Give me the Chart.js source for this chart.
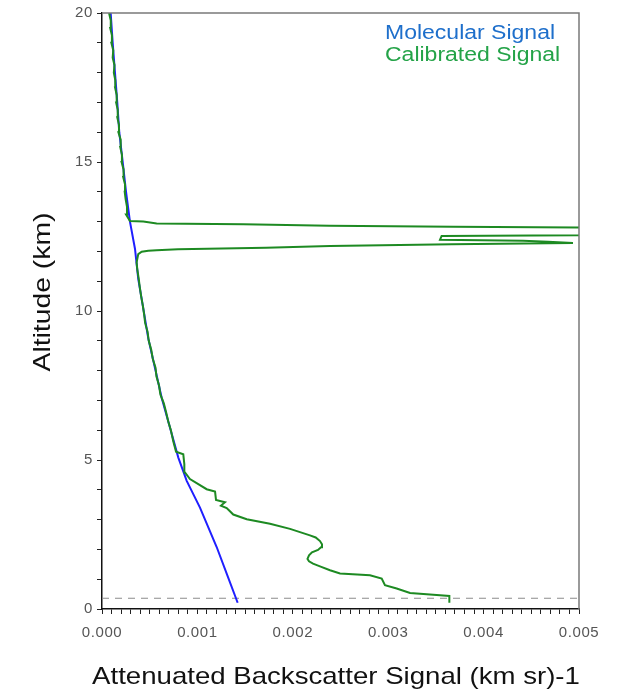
<!DOCTYPE html>
<html>
<head>
<meta charset="utf-8">
<script src="https://cdn.jsdelivr.net/npm/chart.js@4/dist/chart.umd.min.js"></script>
<style>
  html, body { margin: 0; padding: 0; background: #fff; }
  #wrap { width: 619px; height: 694px; position: relative; }
</style>
</head>
<body>
<div id="wrap"><canvas id="lidar"></canvas></div>
<script>
// molecular (model) profile: altitude km / signal
var molAlt = [0.21, 1.19, 2.08, 3.4, 4.3, 5.08, 6.08, 7.08, 8.08, 9.08, 10.08, 11.08, 12.08, 13.0, 14, 15, 16, 17, 18, 19, 20];
var molSignal = [0.001422, 0.001307, 0.001202, 0.001027, 0.000888, 0.000800, 0.000713, 0.000626, 0.000556, 0.000485,
    0.000433, 0.000380, 0.000346, 0.000293, 0.000252, 0.000217, 0.000181, 0.000160, 0.000136, 0.000112, 0.000091];

// calibrated lidar profile, bottom to top (cloud at ~12-13 km goes off scale)
var calAlt = [0.21, 0.44, 0.47, 0.54, 0.69, 0.80, 1.02, 1.13, 1.19, 1.30, 1.43, 1.52, 1.60, 1.68, 1.80, 1.90, 1.98,
    2.07, 2.17, 2.28, 2.40, 2.47, 2.69, 2.86,
    3.01, 3.17, 3.39, 3.47, 3.58, 3.66, 3.94, 4.02, 4.36, 4.58, 4.86, 5.19, 5.28, 5.63,
    6.0, 6.3, 6.6, 6.9, 7.2, 7.5, 7.8, 8.1, 8.4, 8.7, 9.0, 9.3, 9.6, 9.9, 10.2, 10.5, 10.8, 11.1, 11.4, 11.63,
    11.91, 11.99, 12.02, 12.04, 12.07, 12.12, 12.18, 12.24, 12.27, 12.28, 12.32, 12.36, 12.39, 12.52, 12.54,
    12.60, 12.75, 12.80, 12.83, 12.86, 12.91, 12.94, 13.00, 13.02, 13.24, 13.5, 13.75, 14.0,
    14.25, 14.5, 14.75, 15.0, 15.25, 15.5, 15.75, 16.0, 16.25, 16.5, 16.75, 17.0, 17.25, 17.5, 17.75,
    18.0, 18.25, 18.5, 18.75, 19.0, 19.25, 19.5, 19.75, 20.0];
var calSignal = [0.003641, 0.003641, 0.003508, 0.003229, 0.003089, 0.002966, 0.002932, 0.002809, 0.002495, 0.002390,
    0.002285, 0.002212, 0.002170, 0.002154, 0.002170, 0.002201, 0.002264,
    0.002296, 0.002306, 0.002285, 0.002240, 0.002180, 0.001971, 0.001761,
    0.001517, 0.001376, 0.001307, 0.001247, 0.001289, 0.001195, 0.001185, 0.001097, 0.000922, 0.000870, 0.000863,
    0.000852, 0.000776, 0.000747,
    0.000722, 0.000694, 0.000672, 0.000648, 0.000612, 0.000598, 0.000571, 0.000561, 0.000532, 0.000516, 0.000490,
    0.000478, 0.000452, 0.000441, 0.000427, 0.000410, 0.000396, 0.000384, 0.000370, 0.000363,
    0.000380, 0.000416, 0.000485, 0.000573, 0.000797, 0.001719, 0.002390, 0.003668, 0.004675, 0.004937, 0.004675,
    0.004413, 0.003543, 0.003560, 0.005000,
    0.005600, 0.005600, 0.004990, 0.003682, 0.002383, 0.001481, 0.000573, 0.000433, 0.000293, 0.000252, 0.000262,
    0.000248, 0.000238,
    0.000241, 0.000222, 0.000226, 0.000205, 0.000209, 0.000191, 0.000196, 0.000172, 0.000178, 0.000160, 0.000165,
    0.000148, 0.000154, 0.000137, 0.000139,
    0.000124, 0.000131, 0.000112, 0.000118, 0.000098, 0.000104, 0.000086, 0.000092, 0.000074];

var groundAlt = [0.36, 0.36];
var groundSignal = [0, 0.005];

var altTicks = [0, 5, 10, 15, 20];
var signalTicks = ['0.000', '0.001', '0.002', '0.003', '0.004', '0.005'];
var seriesNames = ['Molecular Signal', 'Calibrated Signal'];

function pts(xs, ys) {
    var out = [];
    for (var i = 0; i < xs.length; i++) {
        out.push({ x: xs[i], y: ys[i] });
    }
    return out;
}

// text in the source figure is a bit wider than Arial, so stretch it
function wideText(ctx, txt, x, y, align) {
    var sx = 1.15;
    ctx.save();
    ctx.translate(x, y);
    ctx.scale(sx, 1);
    ctx.textAlign = align;
    ctx.fillText(txt, 0, 0);
    ctx.restore();
}

Chart.defaults.font.family = '"Liberation Sans", Arial, sans-serif';

var extras = {
    id: 'extras',
    beforeDraw: function (chart) {
        chart.ctx.letterSpacing = '0.6px';
    },
    afterDraw: function (chart) {
        var ctx = chart.ctx;
        var a = chart.chartArea;
        ctx.save();
        ctx.letterSpacing = '0px';
        // box top and right
        ctx.strokeStyle = '#7a7a7a';
        ctx.lineWidth = 1.5;
        ctx.beginPath();
        ctx.moveTo(a.left, a.top);
        ctx.lineTo(a.right, a.top);
        ctx.lineTo(a.right, a.bottom);
        ctx.stroke();

        // legend as coloured text
        ctx.font = '20px "Liberation Sans", Arial, sans-serif';
        ctx.textBaseline = 'alphabetic';
        ctx.fillStyle = '#1e6fcb';
        wideText(ctx, seriesNames[0], 385, 39, 'left');
        ctx.fillStyle = '#24a348';
        wideText(ctx, seriesNames[1], 385, 61, 'left');

        // axis titles
        ctx.fillStyle = '#111';
        ctx.font = '24px "Liberation Sans", Arial, sans-serif';
        wideText(ctx, 'Attenuated Backscatter Signal (km sr)-1', 336, 684, 'center');
        ctx.translate(50, 292);
        ctx.rotate(-Math.PI / 2);
        ctx.scale(1.18, 1);
        ctx.textAlign = 'center';
        ctx.fillText('Altitude (km)', 0, 0);
        ctx.restore();
    }
};

var ctx = document.getElementById('lidar');
var lidarChart = new Chart(ctx, {
    type: 'scatter',
    data: {
        datasets: [{
            label: seriesNames[1],
            data: pts(calSignal, calAlt),
            showLine: true,
            borderColor: '#1d8a22',
            borderWidth: 2,
            pointRadius: 0,
            tension: 0
        }, {
            label: seriesNames[0],
            data: pts(molSignal, molAlt),
            showLine: true,
            borderColor: '#1f1fff',
            borderWidth: 2,
            pointRadius: 0,
            tension: 0
        }, {
            label: 'ground',
            data: pts(groundSignal, groundAlt),
            showLine: true,
            borderColor: '#8c8c8c',
            borderWidth: 1.2,
            borderDash: [7, 6],
            pointRadius: 0
        }]
    },
    options: {
        responsive: true,
        maintainAspectRatio: false,
        animation: false,
        layout: { padding: { top: 9, right: 40, left: 0, bottom: 0 } },
        plugins: {
            legend: { display: false },
            tooltip: { enabled: false }
        },
        scales: {
            x: {
                type: 'linear',
                min: 0,
                max: 0.005,
                afterFit: function (s) { s.height = 85; },
                border: { display: true, color: '#111', width: 1.5 },
                grid: { drawOnChartArea: false, drawTicks: true, tickLength: 5, tickColor: '#222' },
                ticks: {
                    stepSize: 0.0001,
                    autoSkip: false,
                    maxRotation: 0,
                    padding: 10,
                    color: '#555',
                    font: { size: 15 },
                    callback: function (v) {
                        var n = Math.round(v * 10000);
                        return n % 10 === 0 ? signalTicks[n / 10] : '';
                    }
                }
            },
            y: {
                type: 'linear',
                min: 0,
                max: 20,
                afterFit: function (s) { s.width = 102; },
                border: { display: true, color: '#111', width: 1.5 },
                grid: { drawOnChartArea: false, drawTicks: true, tickLength: 5, tickColor: '#222' },
                ticks: {
                    stepSize: 1,
                    autoSkip: false,
                    padding: 4,
                    color: '#555',
                    font: { size: 15 },
                    callback: function (v) {
                        return altTicks.indexOf(v) >= 0 ? String(v) : '';
                    }
                }
            }
        }
    },
    plugins: [extras]
});
</script>
</body>
</html>
